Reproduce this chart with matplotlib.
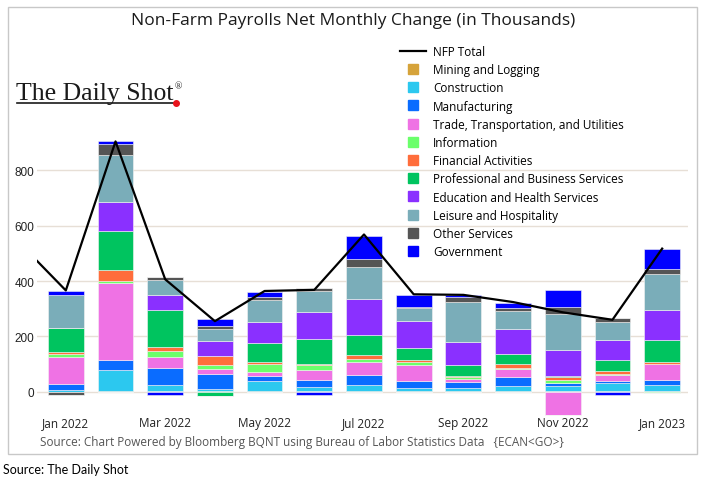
import matplotlib
matplotlib.use("Agg")
import matplotlib.pyplot as plt
import numpy as np
from matplotlib.lines import Line2D
from matplotlib.patches import Rectangle

# Monthly change by sector, thousands
months = ['Jan 2022', 'Feb 2022', 'Mar 2022', 'Apr 2022', 'May 2022', 'Jun 2022', 'Jul 2022',
          'Aug 2022', 'Sep 2022', 'Oct 2022', 'Nov 2022', 'Dec 2022', 'Jan 2023']
mining = [0, 2, 4, 4, 2, 3, 3, 3, 3, 3, 2, 3, 3]
construction = [5, 78, 22, 7, 38, 14, 20, 12, 12, 18, 18, 27, 22]
manufacturing = [24, 36, 60, 52, 18, 24, 38, 23, 22, 31, 10, 8, 17]
trade = [96, 277, 38, 18, 14, 36, 46, 60, 10, 29, -83, 22, 60]
information = [12, 8, 25, 16, 30, 20, 13, 8, 5, 6, 12, 4, -5]
financial = [5, 40, 12, 34, 6, 4, 14, 8, 4, 15, 10, 10, 6]
professional = [90, 138, 135, -14, 68, 88, 72, 45, 42, 35, 5, 39, 79]
education = [0, 106, 52, 53, 76, 98, 130, 95, 80, 90, 95, 75, 108]
leisure = [116, 170, 56, 42, 78, 78, 115, 47, 145, 64, 130, 64, 130]
other = [-10, 38, 12, 13, 14, 9, 30, 5, 18, 11, 25, 16, 17]
government = [17, 12, -10, 24, 16, -10, 80, 43, 8, 20, 62, -10, 73]

# NFP total line, starting with Dec 2021 (cut off at the left edge)
nfp_prev = 550
nfp_total = [366, 904, 406, 255, 364, 368, 568, 352, 350, 324, 287, 260, 517]

sectors = [
    ("Mining and Logging", mining, "#d6a33a"),
    ("Construction", construction, "#2cc8ef"),
    ("Manufacturing", manufacturing, "#0a6cff"),
    ("Trade, Transportation, and Utilities", trade, "#ef72e4"),
    ("Information", information, "#6bff6b"),
    ("Financial Activities", financial, "#ff6d3b"),
    ("Professional and Business Services", professional, "#00c45f"),
    ("Education and Health Services", education, "#8a30ff"),
    ("Leisure and Hospitality", leisure, "#7aadb9"),
    ("Other Services", other, "#555555"),
    ("Government", government, "#0000ff"),
]

W, H = 706, 481
fig = plt.figure(figsize=(W / 100, H / 100), dpi=100)
fig.patch.set_facecolor("white")

# outer frame of the chart image
fig.patches.append(Rectangle((8 / W, 1 - 455 / H), 689 / W, 447 / H, transform=fig.transFigure,
                             fill=False, edgecolor="#c8c8c8", linewidth=1))

ax = fig.add_axes([37 / W, 1 - 418 / H, (688 - 37) / W, (418 - 38) / H])

x = np.arange(len(months))
pos_base = np.zeros(len(months))
neg_base = np.zeros(len(months))
for name, vals, color in sectors:
    v = np.array(vals, dtype=float)
    pos = np.where(v > 0, v, 0)
    neg = np.where(v < 0, v, 0)
    ax.bar(x, pos, 0.72, bottom=pos_base, color=color, edgecolor="#f4f4f4", linewidth=0.4, zorder=2)
    ax.bar(x, neg, 0.72, bottom=neg_base, color=color, edgecolor="#f4f4f4", linewidth=0.4, zorder=2)
    pos_base += pos
    neg_base += neg

ax.plot(np.arange(-1, len(months)), [nfp_prev] + nfp_total, color="black", linewidth=1.6, zorder=3)

ax.set_xlim(-0.58, 12.52)
ax.set_ylim(-91, 1281)
ax.set_yticks([0, 200, 400, 600, 800])
ax.set_yticklabels(["0", "200", "400", "600", "800"], family="Liberation Sans", fontsize=8.5, color="#222222")
ax.set_xticks(x[::2])
ax.set_xticklabels(months[::2], family="Open Sans", fontsize=8.5, color="#222222")
ax.tick_params(length=0, pad=2)
ax.tick_params(axis="x", pad=-1)
ax.grid(axis="y", color="#e7dfd6", linewidth=1, zorder=0)
for s in ax.spines.values():
    s.set_visible(False)

handles = [Line2D([], [], color="black", linewidth=1.6)]
handles += [Line2D([], [], marker="s", linestyle="none", markersize=7, color=c) for _, _, c in sectors]
labels = ["NFP Total"] + [n for n, _, _ in sectors]
fig.legend(handles, labels, loc="upper left", bbox_to_anchor=(400 / W, 1 - 46 / H),
           frameon=False, prop={"family": "Open Sans", "size": 8.5},
           handlelength=2.2, handletextpad=0.6, labelspacing=0.44, borderpad=0, borderaxespad=0)

fig.text(353 / W, 1 - 21 / H, "Non-Farm Payrolls Net Monthly Change (in Thousands)",
         ha="center", va="center", family="Open Sans", fontsize=12.5, color="#1a1a1a")

fig.text(40 / W, 1 - 443 / H,
         "Source: Chart Powered by Bloomberg BQNT using Bureau of Labor Statistics Data   {ECAN<GO>}",
         ha="left", va="center", family="Open Sans", fontsize=8.5, color="#555555")

fig.text(3 / W, 1 - 470 / H, "Source: The Daily Shot", ha="left", va="center",
         family="Lato", fontsize=9, color="black")

# The Daily Shot logo
fig.text(16 / W, 1 - 100 / H, "The Daily Shot", ha="left", va="baseline",
         family="Liberation Serif", fontsize=18.5, color="#1a1a1a")
fig.text(175 / W, 1 - 89 / H, "\u00ae", ha="left", va="baseline",
         family="Liberation Serif", fontsize=7, color="#1a1a1a")
fig.lines.append(Line2D([17 / W, 175 / W], [1 - 104 / H, 1 - 104 / H], transform=fig.transFigure,
                        color="#1a1a1a", linewidth=1.2))
fig.lines.append(Line2D([176 / W], [1 - 104 / H], transform=fig.transFigure, marker="o",
                        markersize=4, color="#e8141c", linestyle="none"))

fig.savefig("out.png", dpi=100, facecolor="white")
